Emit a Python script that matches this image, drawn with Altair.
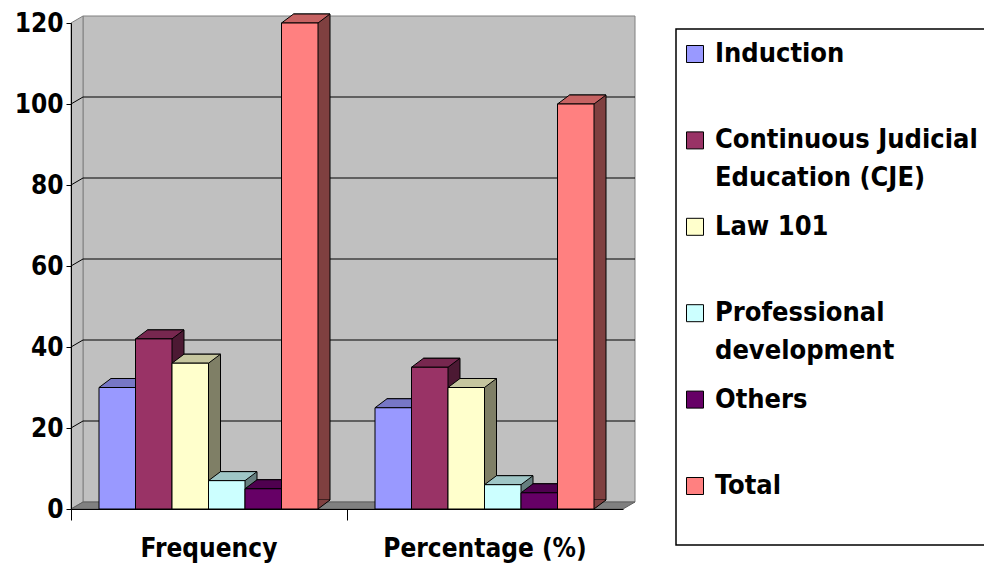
import altair as alt
import pandas as pd

# ---------------- data ----------------
categories = ["Frequency", "Percentage (%)"]
series = ["Induction", "Continuous Judicial Education (CJE)", "Law 101",
          "Professional development", "Others", "Total"]
legend_line1 = ["Induction", "Continuous Judicial", "Law 101", "Professional", "Others", "Total"]
legend_line2 = ["", "Education (CJE)", "", "development", "", ""]
frequency = [30, 42, 36, 7, 5, 120]
percentage = [25, 35, 30, 6, 4, 100]
y_ticks = [0, 20, 40, 60, 80, 100, 120]

# ---------------- style ----------------
front_colors = ["#9999FF", "#993366", "#FFFFCC", "#CCFFFF", "#660066", "#FF8080"]


def shade(hex_color, f):
    h = hex_color.lstrip("#")
    r, g, b = (int(h[i:i + 2], 16) for i in (0, 2, 4))
    return "#%02X%02X%02X" % (int(r * f), int(g * f), int(b * f))


top_colors = [shade(c, 0.78) for c in front_colors]
side_colors = [shade(c, 0.5) for c in front_colors]

FONT = "DejaVu Sans Condensed, DejaVu Sans"
PAD_L, PAD_T = 71, 23
PLOT_H = 486
CAT_PX = 276
Y_MAX = 120
PX_PER_UNIT = PLOT_H / Y_MAX
BAR_PX = 36.5
BAR_W = BAR_PX / CAT_PX
GROUP_OFF = 28 / CAT_PX
WDXp, WDYp = 12, 7          # wall depth in px
BDXp, BDYp = 12, 9          # bar depth in px
WDX, WDY = WDXp / CAT_PX, WDYp / PX_PER_UNIT

top_path = f"M0,0 L{BDXp},{-BDYp} L{BAR_PX + BDXp},{-BDYp} L{BAR_PX},0 Z"
tri_path = f"M0,0 L0,{-BDYp} L{BDXp},{-BDYp} Z"
diag_path = f"M0,0 L{BDXp},{-BDYp}"

values_by_cat = [frequency, percentage]

rows = []
for ci, cat in enumerate(categories):
    for si, s in enumerate(series):
        v = values_by_cat[ci][si]
        x0 = ci + GROUP_OFF + si * BAR_W
        rows.append(dict(series=s, x0=x0, x1=x0 + BAR_W, v=v, base=0,
                         fc=front_colors[si], tc=top_colors[si], sc=side_colors[si]))
bars = pd.DataFrame(rows)

ncat = len(categories)
xs = alt.Scale(domain=[0, ncat], range=[0, CAT_PX * ncat], nice=False, zero=False)
ys = alt.Scale(domain=[0, Y_MAX], nice=False, zero=False)


def X(f, **kw):
    return alt.X(f, scale=xs, axis=kw.pop("axis", None), **kw)


def Y(f, **kw):
    return alt.Y(f, scale=ys, axis=kw.pop("axis", None), **kw)


back_wall = alt.Chart(pd.DataFrame([dict(x=WDX, x2=ncat + WDX, y=WDY, y2=Y_MAX + WDY)])).mark_rect(
    fill="#C0C0C0", stroke="#808080", strokeWidth=1
).encode(x=X("x:Q"), x2="x2:Q", y=Y("y:Q"), y2="y2:Q")

left_wall = alt.Chart(pd.DataFrame([
    dict(x=0, y=0, y2=Y_MAX), dict(x=WDX, y=WDY, y2=Y_MAX + WDY)
])).mark_area(fill="#C0C0C0", stroke="#808080", strokeWidth=1, orient="vertical").encode(
    x=X("x:Q"), y=Y("y:Q", stack=None), y2="y2:Q")

floor = alt.Chart(pd.DataFrame([
    dict(y=0, x=0, x2=ncat), dict(y=WDY, x=WDX, x2=ncat + WDX)
])).mark_area(fill="#808080", stroke="#606060", strokeWidth=1, orient="horizontal").encode(
    y=Y("y:Q"), x=X("x:Q", stack=None), x2="x2:Q")

grid_vals = [t for t in y_ticks if 0 < t < Y_MAX]
grid_df = pd.DataFrame([dict(x=WDX, x2=ncat + WDX, y=t + WDY) for t in grid_vals])
grid = alt.Chart(grid_df).mark_rule(color="black", strokeWidth=1).encode(
    x=X("x:Q"), x2="x2:Q", y=Y("y:Q"))
diag_df = pd.DataFrame([dict(x=0, x2=WDX, y=t, y2=t + WDY) for t in grid_vals])
diag = alt.Chart(diag_df).mark_rule(color="black", strokeWidth=1).encode(
    x=X("x:Q"), x2="x2:Q", y=Y("y:Q"), y2="y2:Q")

# side face: rectangle pushed back by the depth
side_rect = alt.Chart(bars).mark_rect(
    stroke="black", strokeWidth=1,
    xOffset=BDXp, x2Offset=BDXp, yOffset=-BDYp, y2Offset=-BDYp
).encode(x=X("x0:Q"), x2="x1:Q", y=Y("v:Q"), y2="base:Q", fill=alt.Fill("sc:N", scale=None))

side_tri = alt.Chart(bars).mark_point(
    shape=tri_path, size=4, filled=True, opacity=1, strokeWidth=0
).encode(x=X("x1:Q"), y=Y("base:Q"), fill=alt.Fill("sc:N", scale=None))

side_diag = alt.Chart(bars).mark_point(
    shape=diag_path, size=4, filled=False, opacity=1, stroke="black", strokeWidth=1
).encode(x=X("x1:Q"), y=Y("base:Q"))

top_face = alt.Chart(bars).mark_point(
    shape=top_path, size=4, filled=True, opacity=1, stroke="black", strokeWidth=1
).encode(x=X("x0:Q"), y=Y("v:Q"), fill=alt.Fill("tc:N", scale=None))

front_face = alt.Chart(bars).mark_rect(stroke="black", strokeWidth=1).encode(
    x=X("x0:Q", axis=alt.Axis(
        values=[0, 1], labels=False, tickSize=11, tickColor="black", domainColor="black",
        grid=False, title=None, zindex=1)),
    x2="x1:Q",
    y=Y("v:Q", axis=alt.Axis(
        values=y_ticks, labelFont=FONT, labelFontSize=26, labelFontWeight="bold",
        labelColor="black", domainColor="black", tickColor="black", tickSize=5,
        labelPadding=3, grid=False, title=None, zindex=1)),
    y2="base:Q",
    fill=alt.Fill("fc:N", scale=None),
)

cat_df = pd.DataFrame(dict(cat=categories, xc=[i + 0.5 for i in range(ncat)], y=[0] * ncat))
cat_labels = alt.Chart(cat_df).mark_text(
    font=FONT, fontSize=26, fontWeight="bold", color="black", dy=40, baseline="middle"
).encode(x=X("xc:Q"), y=Y("y:Q"), text="cat:N")

# ---------------- legend ----------------
leg_df = pd.DataFrame(dict(series=series, l1=legend_line1, l2=legend_line2, fill=front_colors))
ly = alt.Scale(type="point", domain=series, range=[31, 463], padding=0)

leg_box = alt.Chart(pd.DataFrame([dict(a=1)])).mark_rect(
    fill="white", stroke="black", strokeWidth=1.5
).encode(x=alt.value(605), x2=alt.value(930), y=alt.value(6), y2=alt.value(522))

leg_sym = alt.Chart(leg_df).mark_square(size=289, stroke="black", strokeWidth=1, opacity=1).encode(
    x=alt.value(624),
    y=alt.Y("series:N", scale=ly, axis=None),
    fill=alt.Fill("fill:N", scale=None),
)
leg_t1 = alt.Chart(leg_df).mark_text(
    font=FONT, fontSize=27, fontWeight="bold", color="black", align="left", baseline="middle"
).encode(x=alt.value(644), y=alt.Y("series:N", scale=ly, axis=None), text="l1:N")
leg_t2 = alt.Chart(leg_df).mark_text(
    font=FONT, fontSize=27, fontWeight="bold", color="black", align="left", baseline="middle", dy=38
).encode(x=alt.value(644), y=alt.Y("series:N", scale=ly, axis=None), text="l2:N")

chart = alt.layer(
    back_wall, left_wall, floor, grid, diag,
    side_rect, side_tri, side_diag, top_face, front_face, cat_labels,
    leg_box, leg_sym, leg_t1, leg_t2,
).resolve_scale(x="independent", y="independent").properties(
    width=984 - PAD_L, height=PLOT_H,
    autosize="none",
    padding={"left": PAD_L, "top": PAD_T, "right": 0, "bottom": 566 - PAD_T - PLOT_H},
    background="white",
).configure_view(stroke=None)

chart.save("out.html", embed_options={"renderer": "svg", "actions": False})
